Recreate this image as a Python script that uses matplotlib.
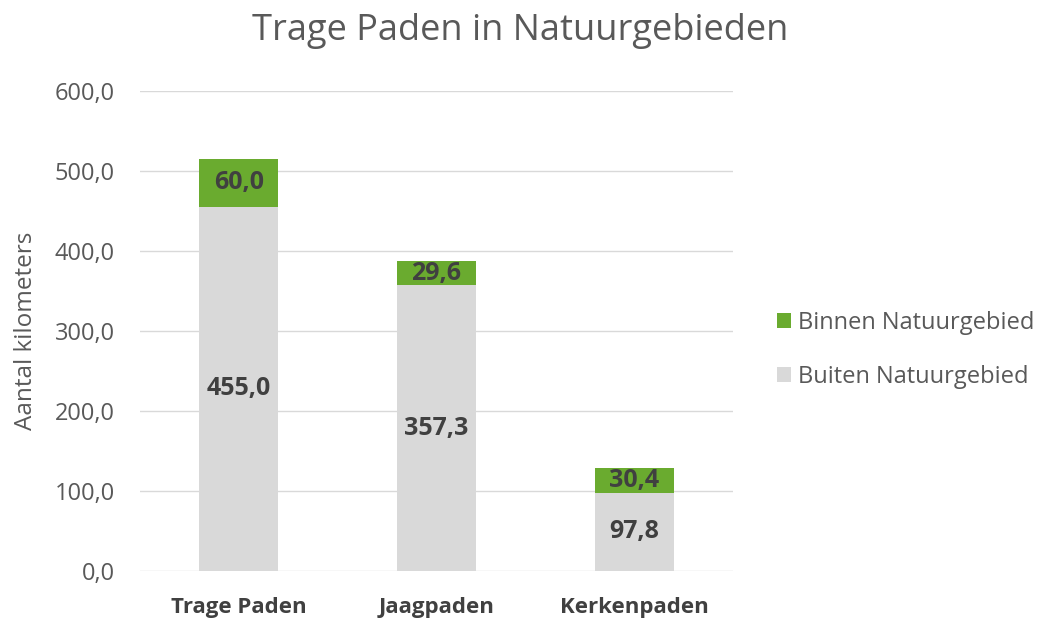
import matplotlib.pyplot as plt
import numpy as np

plt.rcParams['font.family'] = ['Open Sans', 'DejaVu Sans']

# Data
categories = ["Trage Paden", "Jaagpaden", "Kerkenpaden"]
buiten = [455.0, 357.3, 97.8]
binnen = [60.0, 29.6, 30.4]

GREEN = "#6aab2f"
GREY = "#d9d9d9"
TXT = "#595959"
DARK = "#404040"

fig = plt.figure(figsize=(10.46, 6.23), dpi=100)
ax = fig.add_axes([140 / 1046, 1 - 571 / 623, (733 - 140) / 1046, (571 - 91) / 623])

x = np.arange(len(categories))
b1 = ax.bar(x, buiten, width=0.4, color=GREY, label="Buiten Natuurgebied", zorder=2)
b2 = ax.bar(x, binnen, width=0.4, bottom=buiten, color=GREEN, label="Binnen Natuurgebied", zorder=2)

def fmt(v):
    return f"{v:.1f}".replace(".", ",")

for i in range(len(categories)):
    ax.text(x[i], buiten[i] / 2, fmt(buiten[i]), ha="center", va="center",
            fontsize=18, fontweight="bold", color=DARK)
    ax.text(x[i], buiten[i] + binnen[i] / 2, fmt(binnen[i]), ha="center", va="center",
            fontsize=18, fontweight="bold", color=DARK)

ax.set_xlim(-0.5, 2.5)
ax.set_ylim(0, 600)
ax.set_yticks(np.arange(0, 601, 100))
ax.set_yticklabels([fmt(v) for v in np.arange(0, 601, 100)], fontsize=17, color=TXT)
ax.set_xticks(x)
ax.set_xticklabels(categories, fontsize=16, fontweight="bold", color=DARK)
ax.tick_params(axis="x", length=0, pad=19)
ax.tick_params(axis="y", length=0, pad=18)
ax.grid(axis="y", color=GREY, linewidth=1, zorder=0)
for s in ax.spines.values():
    s.set_visible(False)

ax.set_ylabel("Aantal kilometers", fontsize=17.5, color=TXT)
ax.yaxis.set_label_coords(-(140 - 38) / 593, 0.5)
fig.text(520 / 1046, 1 - 31 / 623, "Trage Paden in Natuurgebieden",
         fontsize=26, color=TXT, ha="center", va="center")

handles = [b2, b1]
fig.legend(handles, [h.get_label() for h in handles], loc="center left",
           bbox_to_anchor=(777 / 1046, 1 - 350 / 623), frameon=False,
           borderpad=0, borderaxespad=0,
           fontsize=17, labelcolor=TXT, handlelength=0.6, handleheight=0.6,
           handletextpad=0.3, labelspacing=1.25)

fig.savefig("out.png", dpi=100)
